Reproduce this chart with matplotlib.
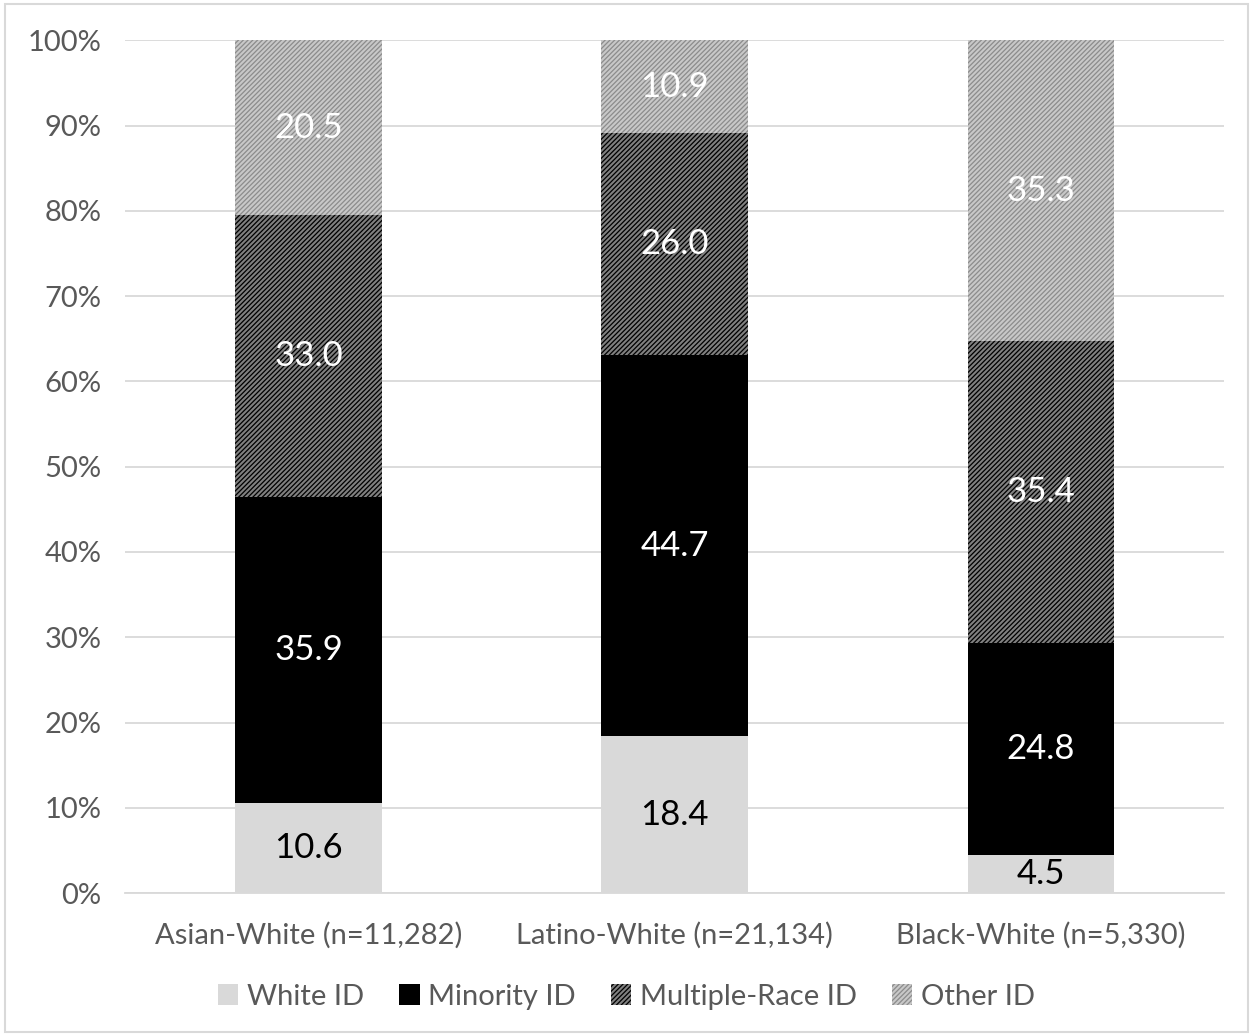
import matplotlib
matplotlib.use('Agg')
import matplotlib.pyplot as plt
import matplotlib.patches as mpatches
import numpy as np

categories = ['Asian-White (n=11,282)', 'Latino-White (n=21,134)', 'Black-White (n=5,330)']
series = ['White ID', 'Minority ID', 'Multiple-Race ID', 'Other ID']
white_id = [10.6, 18.4, 4.5]
minority_id = [35.9, 44.7, 24.8]
multiple_id = [33.0, 26.0, 35.4]
other_id = [20.5, 10.9, 35.3]

plt.rcParams['font.family'] = ['Lato', 'DejaVu Sans']
plt.rcParams['hatch.linewidth'] = 1.5

fig = plt.figure(figsize=(12.53, 10.36), dpi=100)
ax = fig.add_axes([0.1, 0.138, 0.877, 0.823])
fig.patches.append(mpatches.Rectangle((0.004, 0.004), 0.992, 0.992, transform=fig.transFigure,
                                      fill=False, edgecolor='#d9d9d9', linewidth=1.5))

x = np.arange(len(categories))
width = 0.4
styles = [
    dict(color='#d9d9d9', hatch=None, edge='#d9d9d9', txt='black'),
    dict(color='black', hatch=None, edge='black', txt='white'),
    dict(color='black', hatch='///////', edge='#808080', txt='white'),
    dict(color='#8c8c8c', hatch='///////', edge='#c8c8c8', txt='white'),
]
bottom = np.zeros(len(categories))
handles = []
for vals, name, st in zip([white_id, minority_id, multiple_id, other_id], series, styles):
    vals = np.array(vals)
    ax.bar(x, vals, width, bottom=bottom, color=st['color'], edgecolor=st['edge'],
           hatch=st['hatch'], linewidth=0, zorder=3)
    for xi, b, v in zip(x, bottom, vals):
        ax.text(xi, b + v / 2, f'{v:.1f}', ha='center', va='center', color=st['txt'],
                fontsize=25, zorder=4)
    handles.append(mpatches.Patch(facecolor=st['color'], edgecolor=st['edge'], hatch=st['hatch'],
                                  linewidth=0, label=name))
    bottom += vals

ax.set_ylim(0, 100)
ax.set_xlim(-0.5, 2.5)
ax.set_yticks(np.arange(0, 101, 10))
ax.set_yticklabels([f'{t}%' for t in range(0, 101, 10)])
ax.set_xticks(x)
ax.set_xticklabels(categories)
ax.grid(axis='y', color='#d9d9d9', linewidth=1.3, zorder=0)
for s in ['top', 'right', 'left']:
    ax.spines[s].set_visible(False)
ax.spines['bottom'].set_color('#d9d9d9')
ax.spines['bottom'].set_linewidth(1.3)
ax.tick_params(axis='both', length=0, labelsize=21, labelcolor='#595959')
ax.tick_params(axis='x', pad=21)
ax.tick_params(axis='y', pad=17)

fig.legend(handles=handles, loc='center', bbox_to_anchor=(0.5, 0.038), ncol=4, frameon=False,
           fontsize=21, labelcolor='#595959', handlelength=0.7, handleheight=0.7,
           handletextpad=0.3, columnspacing=1.2)

fig.savefig('out.png', dpi=100)
